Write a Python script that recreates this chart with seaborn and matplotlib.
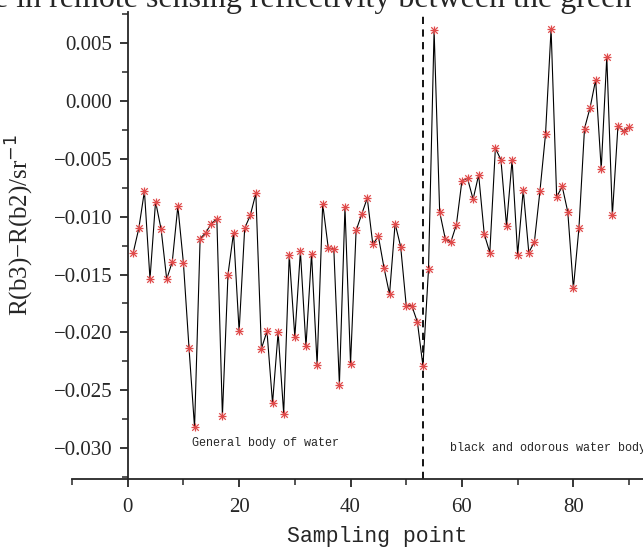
import numpy as np
import pandas as pd
import matplotlib
matplotlib.use("Agg")
import matplotlib.pyplot as plt
import seaborn as sns
from matplotlib.ticker import MultipleLocator, FuncFormatter

# sampling point index and R(b3)-R(b2) values
sampling_points = list(range(1, 91))
reflect_diff = [
    -0.0131, -0.0110, -0.0078, -0.0154, -0.0087, -0.0111, -0.0154, -0.0139, -0.0091, -0.0140,
    -0.0213, -0.0282, -0.0119, -0.0114, -0.0106, -0.0102, -0.0272, -0.0150, -0.0114, -0.0199,
    -0.0110, -0.0099, -0.0080, -0.0214, -0.0199, -0.0261, -0.0200, -0.0270, -0.0133, -0.0204,
    -0.0130, -0.0212, -0.0132, -0.0228, -0.0089, -0.0127, -0.0128, -0.0245, -0.0092, -0.0227,
    -0.0112, -0.0098, -0.0084, -0.0124, -0.0117, -0.0144, -0.0167, -0.0106, -0.0126, -0.0177,
    -0.0177, -0.0191, -0.0229, -0.0145, 0.0061, -0.0096, -0.0119, -0.0122, -0.0107, -0.0069,
    -0.0067, -0.0085, -0.0064, -0.0115, -0.0131, -0.0041, -0.0051, -0.0108, -0.0051, -0.0133,
    -0.0077, -0.0131, -0.0122, -0.0078, -0.0029, 0.0062, -0.0083, -0.0074, -0.0096, -0.0162,
    -0.0110, -0.0024, -0.0006, 0.0018, -0.0059, 0.0038, -0.0099, -0.0022, -0.0026, -0.0023,
]
split_point = 53
region_labels = ["General body of water", "black and odorous water body"]
caption = "e in remote sensing reflectivity between the green"

df = pd.DataFrame({"point": sampling_points, "diff": reflect_diff})

sns.set_style("ticks")
plt.rcParams["font.family"] = ["Liberation Serif", "DejaVu Serif"]
mono = ["Liberation Mono", "DejaVu Sans Mono"]

fig = plt.figure(figsize=(6.43, 5.52), dpi=100)
ax = fig.add_axes([72 / 643, 73 / 552, 571 / 643, 467 / 552])

sns.lineplot(data=df, x="point", y="diff", color="black", linewidth=0.8, ax=ax)
sns.scatterplot(data=df, x="point", y="diff", marker="x", color="#e04a4a", s=22,
                linewidth=0.9, ax=ax, zorder=3)
sns.scatterplot(data=df, x="point", y="diff", marker="+", color="#e04a4a", s=26,
                linewidth=0.9, ax=ax, zorder=3)

ax.axvline(split_point, color="black", linestyle=(0, (4, 3)), linewidth=1.3)

ax.set_xlim(-10, 92.5)
ax.set_ylim(-0.03265, 0.00766)
ax.xaxis.set_major_locator(MultipleLocator(20))
ax.xaxis.set_minor_locator(MultipleLocator(10))
ax.yaxis.set_major_locator(MultipleLocator(0.005))
ax.yaxis.set_minor_locator(MultipleLocator(0.0025))
ax.yaxis.set_major_formatter(FuncFormatter(lambda v, p: f"{v:.3f}".replace("-", "\u2212")))

ax.tick_params(axis="both", which="major", direction="out", length=6, width=1.3, labelsize=15)
ax.tick_params(axis="both", which="minor", direction="out", length=4, width=1.1)
ax.tick_params(axis="x", pad=8)
ax.tick_params(axis="y", pad=5)

# y axis crosses at x = 0, x axis runs on to the left
ax.spines["left"].set_position(("data", 0))
for side in ["top", "right"]:
    ax.spines[side].set_visible(False)
for side in ["left", "bottom"]:
    ax.spines[side].set_linewidth(1.3)

ax.set_xlabel("Sampling point", fontsize=15.5, family=mono)
ax.xaxis.set_label_coords(0.534, -0.1)
ax.set_ylabel("R(b3)\u2212R(b2)/sr$^{-1}$", fontsize=18)
ax.yaxis.set_label_coords(-0.063, 0.545)

ax.text(11.5, -0.0298, region_labels[0], fontsize=8.5, family=mono)
ax.text(57.8, -0.0302, region_labels[1], fontsize=8.5, family=mono)

fig.text(-0.01, 0.987, caption, fontsize=23, ha="left", va="baseline")

fig.savefig("out.png", dpi=100)
